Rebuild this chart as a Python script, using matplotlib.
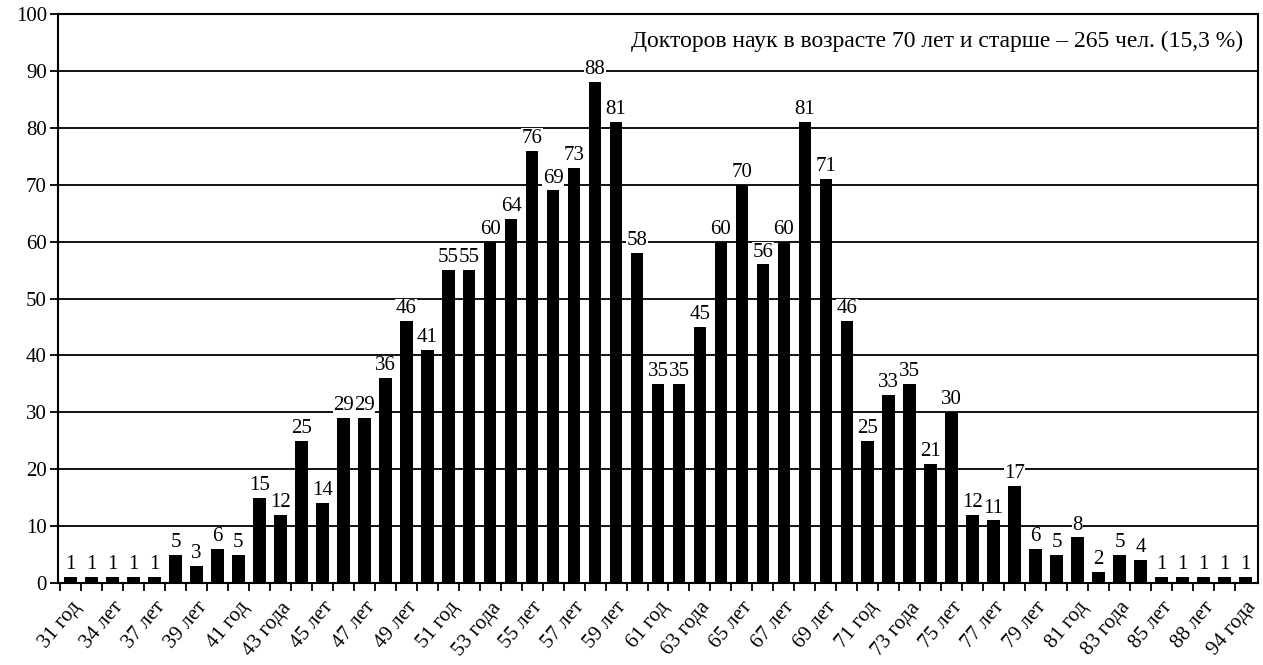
import numpy as np
import matplotlib
matplotlib.use("Agg")
import matplotlib.pyplot as plt

plt.rcParams['font.family'] = ['Liberation Serif', 'DejaVu Serif']

# number of doctors of science by age (one bar per age group)
values = [1, 1, 1, 1, 1, 5, 3, 6, 5, 15, 12, 25, 14, 29, 29, 36, 46, 41, 55, 55,
          60, 64, 76, 69, 73, 88, 81, 58, 35, 35, 45, 60, 70, 56, 60, 81, 71, 46,
          25, 33, 35, 21, 30, 12, 11, 17, 6, 5, 8, 2, 5, 4, 1, 1, 1, 1, 1]
# labels shown under every other bar
tick_labels = ["31 год", "34 лет", "37 лет", "39 лет", "41 год", "43 года", "45 лет",
               "47 лет", "49 лет", "51 год", "53 года", "55 лет", "57 лет", "59 лет",
               "61 год", "63 года", "65 лет", "67 лет", "69 лет", "71 год", "73 года",
               "75 лет", "77 лет", "79 лет", "81 год", "83 года", "85 лет", "88 лет",
               "94 года"]
note = "Докторов наук в возрасте 70 лет и старше – 265 чел. (15,3 %)"

x = np.arange(len(values))

fig = plt.figure(figsize=(12.63, 6.65), dpi=100)
ax = fig.add_axes([58/1263, 1-583/665, 1200/1263, 569/665])

for yv in range(10, 100, 10):
    ax.axhline(yv, color='black', lw=1.3, zorder=0)

ax.bar(x, values, width=0.6, color='black', zorder=2)

for xi, v in zip(x, values):
    ax.text(xi, v + 0.5, str(v), ha='center', va='bottom', fontsize=15,
            zorder=3, bbox=dict(facecolor='white', edgecolor='none', pad=0.3))

ax.set_xlim(-0.6, len(values) - 0.4)
ax.set_ylim(0, 100)
ax.set_yticks(range(0, 101, 10))
ax.tick_params(axis='y', labelsize=15, length=6, width=1.3, pad=2)

ax.set_xticks(x - 0.5, minor=True)
ax.set_xticks(x[::2])
ax.set_xticklabels(tick_labels, rotation=50, ha='right', rotation_mode='anchor',
                   fontsize=15)
ax.tick_params(axis='x', which='major', length=0, pad=11)
ax.tick_params(axis='x', which='minor', length=6, width=1.3)

for s in ax.spines.values():
    s.set_linewidth(1.5)

ax.text(0.988, 0.97, note, transform=ax.transAxes, ha='right', va='top',
        fontsize=17)

fig.savefig("out.png", dpi=100)
